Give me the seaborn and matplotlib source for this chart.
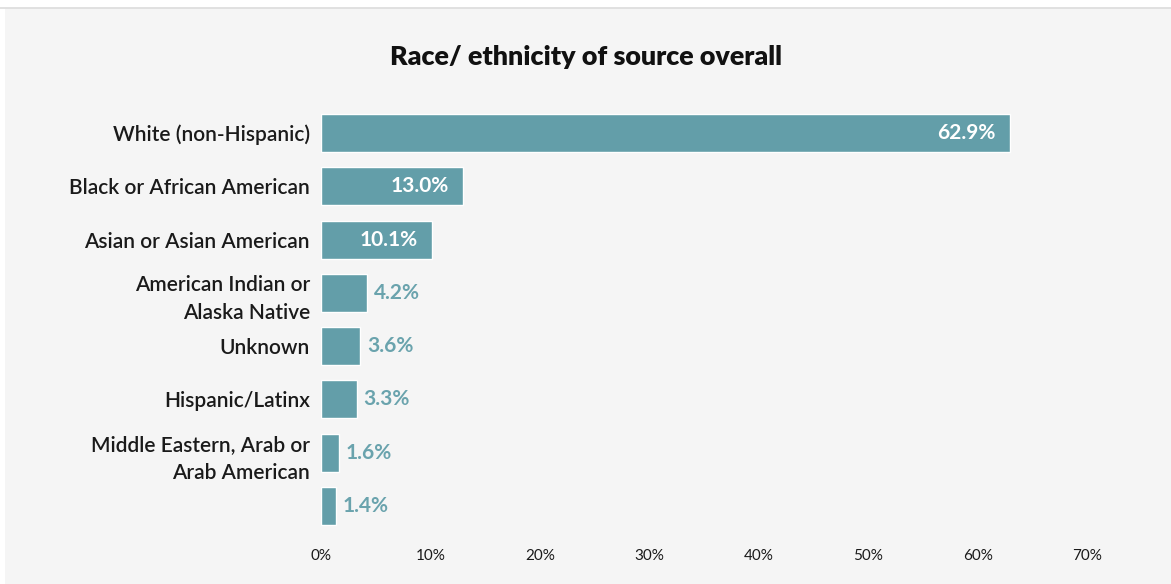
import matplotlib
matplotlib.use("Agg")
import matplotlib.pyplot as plt
import seaborn as sns
import pandas as pd
from matplotlib.patches import Rectangle

# Data
categories = [
    "White (non-Hispanic)",
    "Black or African American",
    "Asian or Asian American",
    "American Indian or\nAlaska Native",
    "Unknown",
    "Hispanic/Latinx",
    "Middle Eastern, Arab or\nArab American",
    "",
]
values = [62.9, 13.0, 10.1, 4.2, 3.6, 3.3, 1.6, 1.4]
x_ticks = [0, 10, 20, 30, 40, 50, 60, 70]

df = pd.DataFrame({"group": categories, "pct": values})

BG = "#f5f5f5"
BAR = "#639ea9"
TXT = "#1a1a1a"

sns.set_theme(style="white")
plt.rcParams["font.family"] = ["Lato", "DejaVu Sans"]

fig = plt.figure(figsize=(11.71, 5.84), dpi=100, facecolor="white")
# grey panel with thin top border (behind the axes)
fig.patches.append(Rectangle((5 / 1171, 0), 1, 576 / 584,
                             transform=fig.transFigure, facecolor=BG,
                             edgecolor="none", zorder=-10))
fig.lines.append(plt.Line2D([0, 1], [576 / 584, 576 / 584], transform=fig.transFigure,
                            color="#dcdcdc", lw=1.2, zorder=-5))

left = 321 / 1171
right = 1087.5 / 1171
top = 1 - 106.4 / 584
bottom = 1 - 532.6 / 584
ax = fig.add_axes([left, bottom, right - left, top - bottom])
ax.patch.set_alpha(0)
ax.set_zorder(5)

sns.barplot(data=df, y="group", x="pct", orient="h", color=BAR,
            saturation=1, width=0.71, ax=ax)

ax.set_xlim(0, 70)
ax.set_xticks(x_ticks)
ax.set_xticklabels([f"{t}%" for t in x_ticks], fontsize=11, color=TXT)
ax.set_xlabel("")
ax.set_ylabel("")
ax.tick_params(axis="x", length=0, pad=12)
ax.tick_params(axis="y", length=0, pad=8)
for lab in ax.get_yticklabels():
    lab.set_fontsize(15)
    lab.set_fontweight("semibold")
    lab.set_color(TXT)
    lab.set_linespacing(1.5)
    lab.set_horizontalalignment("right")
sns.despine(ax=ax, left=True, bottom=True)

# value labels
for i, v in enumerate(values):
    if v > 8:
        ax.text(v - 1.3, i, f"{v:.1f}%", ha="right", va="center",
                color="white", fontsize=15, fontweight="bold")
    else:
        ax.text(v + 0.6, i, f"{v:.1f}%", ha="left", va="center",
                color="#6aa3ad", fontsize=15, fontweight="bold")

fig.text(0.5, 1 - 57 / 584, "Race/ ethnicity of source overall", ha="center",
         va="center", fontsize=19.4, fontweight="heavy", color="#111111")

fig.savefig("out.png", dpi=100, facecolor=fig.get_facecolor())
